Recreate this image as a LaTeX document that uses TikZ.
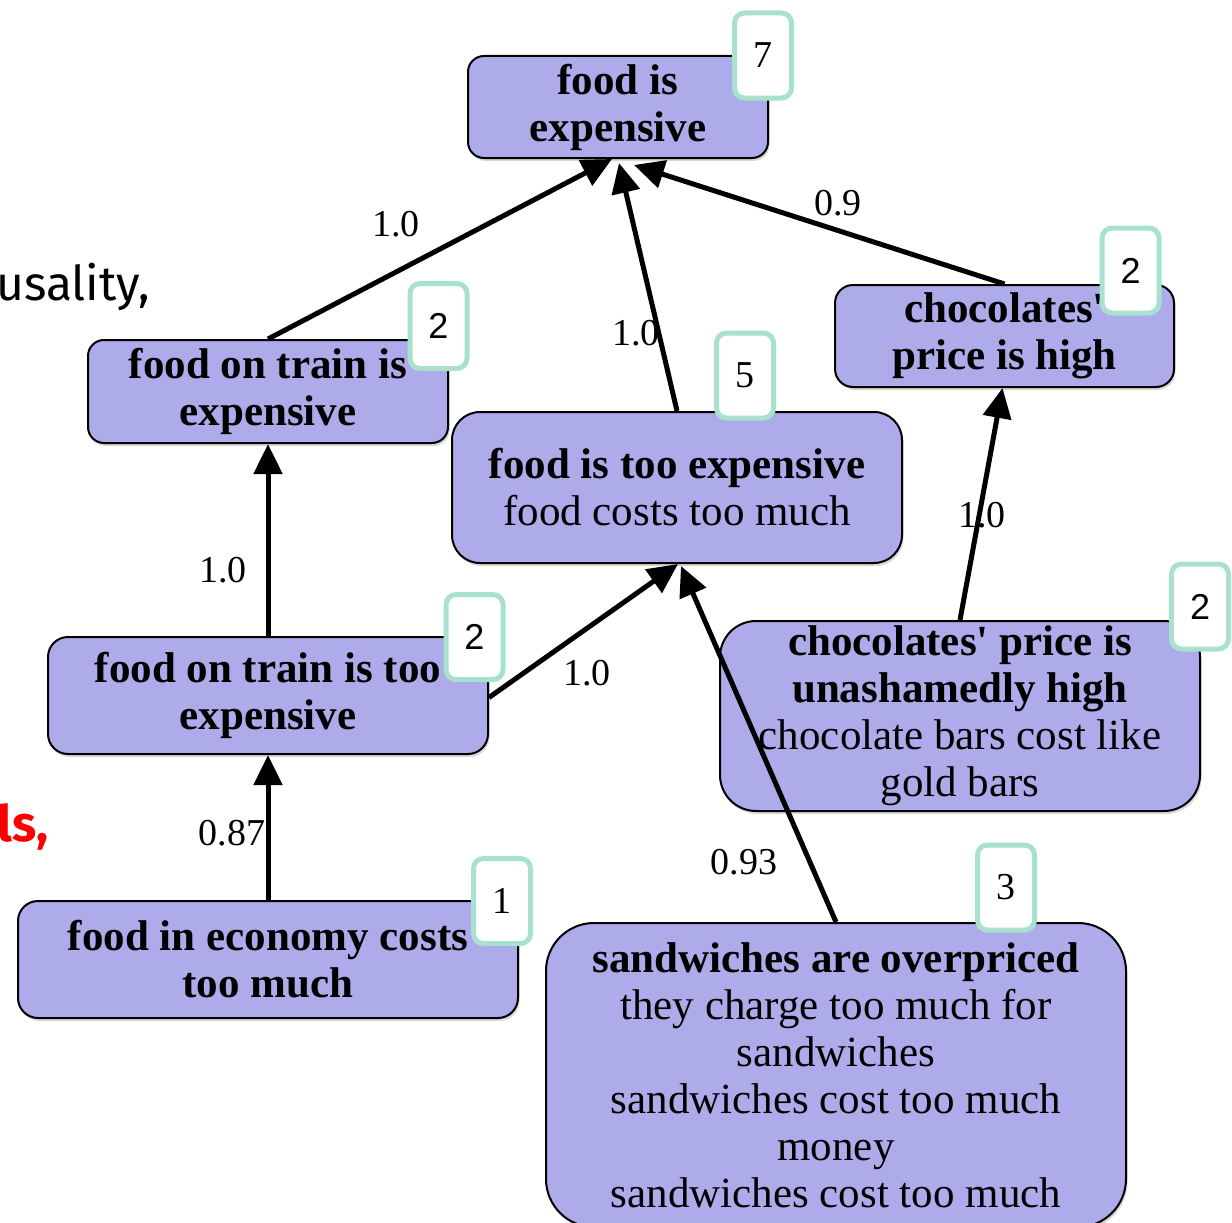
\documentclass[tikz,border=0pt]{standalone}
\usepackage{fontspec}
\setmainfont{Liberation Serif}[Ligatures=TeXOff]
\newfontfamily\bgfont{Fira Sans}
\newfontfamily\badgesans{Liberation Sans}
\usetikzlibrary{arrows.meta,shadows}
\definecolor{nodefill}{RGB}{173,171,233}
\definecolor{badgeline}{RGB}{168,226,206}
\begin{document}
\begin{tikzpicture}[x=1pt,y=-1pt,
  claim/.style={draw=black, line width=2pt, fill=nodefill, align=center, inner sep=0pt,
    font=\fontsize{43}{47}\selectfont,
    drop shadow={shadow xshift=1.5pt, shadow yshift=-3pt, opacity=0.3}},
  badge/.style={draw=badgeline, line width=5pt, fill=white, rounded corners=10pt,
    minimum width=57pt, minimum height=85pt, inner sep=0pt, font=\fontsize{38}{40}\selectfont},
  edgelab/.style={font=\fontsize{38}{40}\selectfont, inner sep=0pt},
  link/.style={line width=5pt, -{Triangle[length=30pt,width=28pt]}}]
\useasboundingbox (0,0) rectangle (1232,1223);
\clip (0,0) rectangle (1232,1223);

% background slide text
\node[anchor=base west, inner sep=0pt, font=\bgfont\fontsize{48}{54}\selectfont] (bg1) at (-4,300) {usality,};
\node[anchor=base west, inner sep=0pt, text=red, font=\bgfont\bfseries\fontsize{50}{56}\selectfont] (bg2) at (-3,841) {ls,};

% claim nodes
\node[claim, minimum width=300pt, minimum height=102pt, rounded corners=16pt] (n1) at (618,107)
  {\bfseries food is\\ \bfseries expensive};
\node[claim, minimum width=360pt, minimum height=103pt, rounded corners=16pt] (n2) at (268,391.5)
  {\bfseries food on train is\\ \bfseries expensive};
\node[claim, minimum width=450pt, minimum height=151pt, rounded corners=28pt] (n3) at (677,487.5)
  {{\bfseries food is too expensive}\\ food costs too much};
\node[claim, minimum width=339pt, minimum height=102pt, rounded corners=18pt] (n4) at (1004.5,336)
  {\bfseries chocolates'\\ \bfseries price is high};
\node[claim, minimum width=440pt, minimum height=117pt, rounded corners=20pt] (n5) at (268,695.5)
  {\bfseries food on train is too\\ \bfseries expensive};
\node[claim, minimum width=480pt, minimum height=190pt, rounded corners=36pt] (n6) at (960,716)
  {{\bfseries chocolates' price is}\\ {\bfseries unashamedly high}\\ chocolate bars cost like\\ gold bars};
\node[claim, minimum width=500pt, minimum height=117pt, rounded corners=20pt] (n7) at (268,959.5)
  {\bfseries food in economy costs\\ \bfseries too much};
\node[claim, minimum width=580pt, minimum height=304pt, rounded corners=48pt] (n8) at (836,1075)
  {{\bfseries sandwiches are overpriced}\\ they charge too much for\\ sandwiches\\ sandwiches cost too much\\ money\\ sandwiches cost too much};

% edge labels
\node[edgelab] (l1) at (396,224) {1.0};
\node[edgelab] (l2) at (636,333) {1.0};
\node[edgelab] (l3) at (838,203) {0.9};
\node[edgelab] (l4) at (223,570) {1.0};
\node[edgelab] (l5) at (587,673) {1.0};
\node[edgelab] (l6) at (744,862) {0.93};
\node[edgelab] (l7) at (982,515) {1.0};
\node[edgelab] (l8) at (232,833) {0.87};

% connectors
\draw[link] (n2.north) -- ([xshift=-6pt]n1.south);
\draw[link] (n3.north) -- ([xshift=1pt,yshift=-4pt]n1.south);
\draw[link] (n4.north) -- ([xshift=16pt,yshift=-6pt]n1.south);
\draw[link] (n5.north) -- (n2.south);
\draw[link] ([yshift=-2pt]n5.east) -- ([xshift=1pt]n3.south);
\draw[link] (n8.north) -- ([xshift=4pt,yshift=-2pt]n3.south);
\draw[link] (n6.north) -- ([xshift=-2pt]n4.south);
\draw[link] (n7.north) -- (n5.south);

% count badges
\node[badge] (b1) at (763,55.5) {7};
\node[badge, font=\badgesans\fontsize{36}{40}\selectfont] (b2) at (438.5,326) {2};
\node[badge] (b3) at (745,375.5) {5};
\node[badge, font=\badgesans\fontsize{36}{40}\selectfont] (b4) at (1130.5,270.5) {2};
\node[badge, font=\badgesans\fontsize{36}{40}\selectfont] (b5) at (474.5,637) {2};
\node[badge, font=\badgesans\fontsize{36}{40}\selectfont] (b6) at (1200,606.5) {2};
\node[badge] (b7) at (502,901) {1};
\node[badge] (b8) at (1006,887.5) {3};
\end{tikzpicture}
\end{document}
